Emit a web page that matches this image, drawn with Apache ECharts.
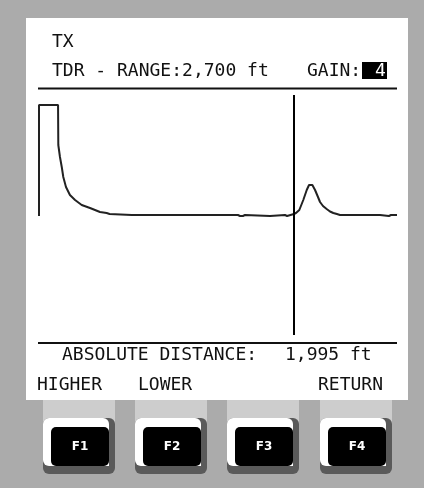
<!DOCTYPE html>
<html>
<head>
<meta charset="utf-8">
<script src="https://cdn.jsdelivr.net/npm/echarts@6/dist/echarts.min.js"></script>
<style>
html,body{margin:0;padding:0;background:#ababab;}
#tdr{width:424px;height:488px;}
</style>
</head>
<body>
<div id="tdr"></div>
<script>
// trace: distance (ft) and level
var distFt = [0, 0, 149, 151, 164, 178, 190, 211, 242, 282, 334, 399, 477, 529, 540, 552, 725,
	1556, 1572, 1595, 1611, 1807, 1820, 1924, 1940, 1955, 1994, 2010, 2036, 2067, 2094, 2112, 2125, 2138, 2159, 2182,
	2198, 2221, 2250, 2276, 2302, 2330, 2354, 2628, 2643, 2667, 2737, 2753, 2800];
var level = [-1, 110, 110, 70, 58, 48, 38, 28, 20, 15, 10, 7, 3, 2, 3, 1, 0,
	0, -1, -1, 0, -1, 0, 0, -1, 0, 1, 2, 5, 15, 25, 30, 31.5, 30, 25, 18,
	13, 9, 6, 3.5, 2, 1, 0, 0, -1, 0, -1, 0, 0];
var cursorFt = 1995;
var fKeys = ['F1', 'F2', 'F3', 'F4'];
var softKeys = ['HIGHER', 'LOWER', '', 'RETURN'];

var mono = '"DejaVu Sans Mono", monospace';
var ink = '#111';

var points = [];
for (var i = 0; i < distFt.length; i++) {
	points.push([distFt[i], level[i]]);
}

function txt(x, y, s, color){
	return {
		type: 'text', x: x, y: y, z: 1,
		style: {text: s, fill: color || ink, font: '18px ' + mono, verticalAlign: 'middle'}
	};
}

var gfx = [
	//屏幕
	{type: 'rect', z: -1, shape: {x: 26, y: 18, width: 382, height: 382}, style: {fill: '#fff'}},
	txt(52, 42, 'TX'),
	txt(52, 71, 'TDR - RANGE:2,700 ft'),
	txt(307, 71, 'GAIN:'),
	{type: 'rect', z: 1, shape: {x: 362, y: 62, width: 25, height: 17}, style: {fill: '#000'}},
	txt(375, 71, '4', '#fff'),
	{type: 'line', z: 1, shape: {x1: 38, y1: 88.5, x2: 397, y2: 88.5}, style: {stroke: '#111', lineWidth: 2}},
	{type: 'line', z: 1, shape: {x1: 38, y1: 343, x2: 397, y2: 343}, style: {stroke: '#111', lineWidth: 2}},
	txt(62, 355, 'ABSOLUTE DISTANCE:'),
	txt(285, 355, '1,995 ft')
];

var softX = [37, 138, 0, 318];
var tabX = [43, 135, 227, 320];
for (var k = 0; k < fKeys.length; k++) {
	if (softKeys[k]) gfx.push(txt(softX[k], 385, softKeys[k]));
	var L = tabX[k];
	//按键
	gfx.push({type: 'rect', z: -1, shape: {x: L, y: 400, width: 72, height: 68}, style: {fill: '#cdcdcd'}});
	gfx.push({type: 'rect', z: 0, shape: {x: L, y: 418, width: 72, height: 56, r: 6}, style: {fill: '#5a5a5a'}});
	gfx.push({type: 'rect', z: 0, shape: {x: L, y: 418, width: 66, height: 48, r: [6, 6, 0, 6]}, style: {fill: '#fff'}});
	gfx.push({type: 'rect', z: 1, shape: {x: L + 8, y: 427, width: 58, height: 39, r: 5}, style: {fill: '#000'}});
	gfx.push({
		type: 'text', z: 2, x: L + 37, y: 447,
		style: {text: fKeys[k], fill: '#fff', font: 'bold 12px "DejaVu Sans", sans-serif', align: 'center', verticalAlign: 'middle'}
	});
}

var chart = echarts.init(document.getElementById('tdr'));
chart.setOption({
	animation: false,
	grid: {left: 39, top: 95, width: 358, height: 240},
	xAxis: {type: 'value', min: 0, max: 2800, show: false},
	yAxis: {type: 'value', min: -120, max: 120, show: false},
	graphic: gfx,
	series: [{
		type: 'line',
		data: points,
		showSymbol: false,
		lineStyle: {color: '#222', width: 2},
		markLine: {
			silent: true,
			symbol: 'none',
			label: {show: false},
			lineStyle: {color: '#000', width: 2, type: 'solid'},
			data: [{xAxis: cursorFt}]
		}
	}]
});
</script>
</body>
</html>
